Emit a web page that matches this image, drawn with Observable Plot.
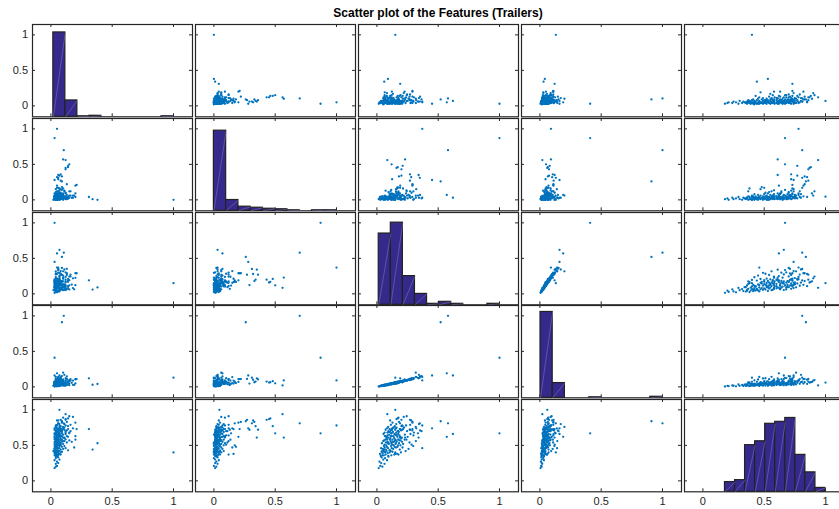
<!DOCTYPE html>
<html>
<head>
<meta charset="utf-8">
<script src="https://cdn.jsdelivr.net/npm/d3@7"></script>
<script src="https://cdn.jsdelivr.net/npm/@observablehq/plot@0.6"></script>
<style>
  html, body { margin: 0; padding: 0; background: #fff; }
  #chart { position: relative; width: 839px; height: 509px; overflow: hidden;
           font-family: "Liberation Sans", Arial, Helvetica, sans-serif; }
  #title { position: absolute; left: 0; width: 876px; top: 5.5px; line-height: 14px;
           text-align: center; font-weight: bold; font-size: 12px; color: #000; }
  #chart svg { position: absolute; overflow: visible; }
</style>
</head>
<body>
<div id="chart"><div id="title"></div></div>
<script>
// ---------------- data ----------------
const chartTitle = "Scatter plot of the Features (Trailers)";
const featureNames = ["Feature 1", "Feature 2", "Feature 3", "Feature 4", "Feature 5"];
const tickValues = [0, 0.5, 1];

const f1 = [
  0.03, 0.04, 0.05, 0.04, 0.06, 0.05, 0.03, 0.07, 0.04, 0.06,
  0.05, 1.00, 0.04, 0.06, 0.03, 0.08, 0.05, 0.04, 0.07, 0.03,
  0.06, 0.05, 0.04, 0.09, 0.03, 0.05, 0.07, 0.04, 0.06, 0.02,
  0.05, 0.04, 0.08, 0.06, 0.05, 0.34, 0.04, 0.06, 0.03, 0.08,
  0.05, 0.10, 0.04, 0.07, 0.03, 0.12, 0.05, 0.19, 0.04, 0.09,
  0.05, 0.07, 0.03, 0.11, 0.04, 0.06, 0.08, 0.05, 0.14, 0.03,
  0.38, 0.04, 0.07, 0.05, 0.10, 0.03, 0.06, 0.08, 0.04, 0.13,
  0.05, 0.07, 0.03, 0.09, 0.06, 0.11, 0.04, 0.08, 0.05, 0.15,
  0.06, 0.04, 0.07, 0.09, 0.03, 0.12, 0.05, 0.08, 0.06, 0.17,
  0.04, 0.10, 0.05, 0.07, 0.20, 0.03, 0.05, 0.07, 0.10, 0.15,
  0.06, 0.05, 0.04, 0.08, 0.06, 0.11, 0.03, 0.07, 0.09, 0.05,
  0.13, 0.04, 0.20, 0.06, 0.08, 0.05, 0.10, 0.03, 0.07, 0.12,
  0.04, 0.06, 0.09, 0.05, 0.14, 0.07, 0.04, 0.11, 0.06, 0.08,
  0.03, 0.31, 0.03, 0.21, 0.08, 0.06, 0.10, 0.04, 0.07, 0.12,
  0.05, 0.09, 0.06, 0.16, 0.04, 0.08, 0.13, 0.05, 0.07, 0.11,
  0.03, 0.09, 0.06, 0.14, 0.05, 0.08, 0.18, 0.04, 0.07, 0.10,
  0.06, 0.12, 0.04, 0.08, 0.15, 0.05, 0.09, 0.07, 0.11, 0.105,
  0.05, 0.20, 0.09, 0.07, 0.14, 0.06, 0.04, 0.10, 0.08, 0.12,
  0.05, 0.16, 0.07, 0.11, 0.06, 0.09, 0.13, 0.04, 0.09, 0.12,
  0.14, 0.08, 0.12, 0.15, 0.06, 0.10, 0.05, 0.18, 0.07, 0.12,
  0.06
];
const f2 = [
  0.01, 0.02, 0.00, 0.03, 0.01, 0.02, 0.04, 0.01, 0.00, 0.03,
  0.02, 0.00, 0.01, 0.03, 0.02, 0.05, 0.00, 0.04, 0.16, 0.01,
  0.02, 0.06, 0.00, 0.03, 0.02, 0.05, 0.01, 0.03, 0.08, 0.00,
  0.02, 0.01, 0.04, 0.12, 0.03, 0.01, 0.02, 0.05, 0.01, 0.03,
  0.00, 0.07, 0.15, 0.02, 0.04, 0.03, 0.01, 0.06, 0.02, 0.18,
  0.03, 0.00, 0.05, 0.02, 0.08, 0.01, 0.04, 0.17, 0.02, 0.03,
  0.00, 0.02, 0.05, 0.01, 0.03, 0.06, 0.02, 0.09, 0.00, 0.04,
  0.03, 0.07, 0.01, 0.02, 0.05, 0.12, 0.03, 0.01, 0.04, 0.06,
  0.02, 0.08, 0.135, 0.03, 0.01, 0.05, 0.02, 0.10, 0.04, 0.03,
  0.06, 0.02, 0.11, 0.00, 0.04, 0.87, 0.07, 0.03, 0.57, 0.50,
  0.35, 0.20, 0.02, 0.05, 0.01, 0.03, 0.06, 0.02, 0.08, 0.04,
  0.01, 0.03, 0.09, 0.12, 0.02, 0.05, 0.00, 0.04, 0.07, 0.03,
  0.01, 0.06, 0.14, 0.02, 0.04, 0.10, 0.03, 0.05, 0.02, 0.01,
  0.09, 0.04, 0.28, 0.21, 0.36, 0.29, 0.16, 0.03, 0.05, 0.01,
  0.08, 0.02, 0.04, 0.06, 0.11, 0.03, 0.07, 0.02, 0.05, 0.13,
  0.01, 0.06, 0.09, 0.02, 0.04, 0.15, 0.03, 0.07, 0.02, 0.05,
  0.01, 0.10, 0.04, 0.08, 0.03, 0.12, 0.02, 0.06, 0.04, 0.70,
  1.00, 0.20, 0.33, 0.34, 0.48, 0.31, 0.03, 0.06, 0.02, 0.09,
  0.04, 0.12, 0.08, 0.03, 0.17, 0.05, 0.22, 0.07, 0.26, 0.45,
  0.46, 0.27, 0.43, 0.12, 0.04, 0.09, 0.32, 0.06, 0.045, 0.56,
  0.03
];
const f3 = [
  0.015, 0.045, 0.028, 0.062, 0.035, 0.021, 0.083, 0.052, 0.067, 0.039,
  0.094, 0.15, 0.032, 0.118, 0.056, 0.071, 0.142, 0.025, 0.165, 0.088,
  0.047, 0.104, 0.196, 0.061, 0.127, 0.038, 0.079, 0.234, 0.112, 0.054,
  0.093, 0.148, 0.068, 0.176, 0.043, 0.06, 0.102, 0.046, 0.187, 0.073,
  0.133, 0.258, 0.156, 0.034, 0.091, 0.121, 0.209, 0.064, 0.145, 0.168,
  0.082, 0.296, 0.115, 0.057, 0.138, 0.192, 0.076, 0.172, 0.108, 0.049,
  0.09, 0.128, 0.062, 0.214, 0.097, 0.153, 0.041, 0.181, 0.118, 0.266,
  0.074, 0.139, 0.205, 0.088, 0.162, 0.111, 0.318, 0.058, 0.147, 0.193,
  0.084, 0.126, 0.241, 0.069, 0.174, 0.105, 0.152, 0.283, 0.096, 0.131,
  0.183, 0.052, 0.158, 0.119, 0.226, 1.00, 0.57, 0.62, 0.23, 0.12,
  0.34, 0.19, 0.078, 0.141, 0.203, 0.092, 0.167, 0.251, 0.113, 0.136,
  0.065, 0.184, 0.122, 0.298, 0.087, 0.156, 0.228, 0.101, 0.174, 0.054,
  0.143, 0.335, 0.117, 0.199, 0.081, 0.162, 0.274, 0.109, 0.151, 0.072,
  0.188, 0.19, 0.45, 0.29, 0.27, 0.124, 0.213, 0.086, 0.158, 0.302,
  0.107, 0.179, 0.131, 0.246, 0.094, 0.168, 0.352, 0.115, 0.197, 0.071,
  0.149, 0.268, 0.103, 0.186, 0.126, 0.321, 0.082, 0.161, 0.222, 0.137,
  0.098, 0.174, 0.289, 0.119, 0.063, 0.155, 0.364, 0.207, 0.134, 0.58,
  0.37, 0.29, 0.18, 0.20, 0.21, 0.35, 0.092, 0.317, 0.146, 0.238,
  0.114, 0.271, 0.158, 0.343, 0.189, 0.127, 0.29, 0.206, 0.52, 0.16,
  0.17, 0.27, 0.20, 0.243, 0.108, 0.176, 0.28, 0.219, 0.15, 0.085,
  0.37
];
const f4 = [
  0.005, 0.014, 0.011, 0.019, 0.016, 0.008, 0.033, 0.015, 0.027, 0.012,
  0.031, 0.13, 0.013, 0.036, 0.024, 0.021, 0.058, 0.009, 0.047, 0.037,
  0.014, 0.043, 0.071, 0.025, 0.039, 0.016, 0.024, 0.092, 0.046, 0.017,
  0.034, 0.062, 0.022, 0.058, 0.018, 0.03, 0.031, 0.019, 0.071, 0.029,
  0.042, 0.104, 0.052, 0.011, 0.036, 0.049, 0.066, 0.027, 0.061, 0.054,
  0.025, 0.118, 0.047, 0.017, 0.043, 0.081, 0.032, 0.064, 0.037, 0.021,
  0.04, 0.052, 0.018, 0.073, 0.041, 0.047, 0.016, 0.078, 0.035, 0.108,
  0.029, 0.055, 0.064, 0.034, 0.069, 0.038, 0.142, 0.021, 0.044, 0.083,
  0.031, 0.051, 0.087, 0.023, 0.062, 0.045, 0.049, 0.121, 0.033, 0.057,
  0.067, 0.019, 0.061, 0.042, 0.106, 0.41, 0.19, 0.16, 0.09, 0.05,
  0.12, 0.07, 0.028, 0.058, 0.071, 0.039, 0.056, 0.097, 0.041, 0.051,
  0.026, 0.064, 0.049, 0.109, 0.029, 0.063, 0.086, 0.037, 0.072, 0.022,
  0.048, 0.128, 0.044, 0.076, 0.034, 0.058, 0.112, 0.038, 0.055, 0.027,
  0.073, 0.12, 0.16, 0.11, 0.105, 0.046, 0.088, 0.031, 0.052, 0.124,
  0.043, 0.061, 0.054, 0.087, 0.036, 0.071, 0.147, 0.039, 0.078, 0.026,
  0.062, 0.094, 0.041, 0.065, 0.049, 0.138, 0.029, 0.068, 0.079, 0.046,
  0.035, 0.072, 0.115, 0.043, 0.024, 0.053, 0.152, 0.083, 0.051, 1.00,
  0.09, 0.11, 0.065, 0.075, 0.08, 0.13, 0.034, 0.20, 0.057, 0.092,
  0.044, 0.109, 0.066, 0.17, 0.072, 0.047, 0.11, 0.084, 0.91, 0.06,
  0.065, 0.112, 0.075, 0.096, 0.041, 0.069, 0.10, 0.088, 0.06, 0.02,
  0.14
];
const f5 = [
  0.18, 0.20, 0.21, 0.24, 0.25, 0.27, 0.29, 0.30, 0.32, 0.33,
  0.34, 0.40, 0.35, 0.36, 0.36, 0.37, 0.37, 0.38, 0.38, 0.39,
  0.39, 0.40, 0.40, 0.41, 0.41, 0.41, 0.42, 0.42, 0.42, 0.42,
  0.35, 0.38, 0.40, 0.37, 0.36, 0.44, 0.43, 0.43, 0.44, 0.44,
  0.45, 0.45, 0.47, 0.46, 0.46, 0.46, 0.47, 0.47, 0.48, 0.48,
  0.48, 0.49, 0.49, 0.49, 0.50, 0.50, 0.50, 0.50, 0.43, 0.45,
  0.53, 0.51, 0.51, 0.52, 0.52, 0.52, 0.53, 0.53, 0.54, 0.54,
  0.54, 0.55, 0.55, 0.55, 0.56, 0.56, 0.56, 0.57, 0.57, 0.57,
  0.58, 0.58, 0.58, 0.58, 0.585, 0.585, 0.58, 0.51, 0.53, 0.55,
  0.57, 0.56, 0.54, 0.52, 0.58, 0.67, 0.62, 0.66, 0.61, 0.67,
  0.61, 0.62, 0.60, 0.60, 0.61, 0.61, 0.62, 0.62, 0.63, 0.63,
  0.63, 0.64, 0.63, 0.64, 0.64, 0.65, 0.65, 0.65, 0.66, 0.66,
  0.66, 0.67, 0.67, 0.60, 0.62, 0.64, 0.66, 0.60, 0.65, 0.63,
  0.61, 0.73, 0.74, 0.73, 0.72, 0.72, 0.73, 0.68, 0.68, 0.68,
  0.69, 0.69, 0.69, 0.70, 0.70, 0.70, 0.71, 0.71, 0.71, 0.72,
  0.72, 0.72, 0.73, 0.73, 0.74, 0.74, 0.74, 0.75, 0.75, 0.75,
  0.69, 0.70, 0.71, 0.73, 0.68, 0.74, 0.70, 0.72, 0.75, 0.81,
  0.78, 0.82, 0.83, 0.77, 0.77, 0.81, 0.76, 0.76, 0.77, 0.78,
  0.79, 0.79, 0.80, 0.80, 0.81, 0.82, 0.83, 0.78, 0.84, 0.87,
  0.88, 0.86, 0.86, 0.91, 0.85, 0.89, 0.85, 0.90, 1.00, 0.94,
  0.46
];

// ---------------- layout & style ----------------
const features = [f1, f2, f3, f4, f5];
const samples = d3.range(f1.length).map(k => features.map(f => f[k]));

const layout = {
  left: 31.7, pitchX: 163.1, w: 160,
  top: 24.4, pitchY: 93.65, h: 92.3,
  marginLeft: 32, marginBottom: 20, tickLen: 3
};
const xDomain = [-0.15, 1.155];
const yDomain = [-0.154, 1.146];
const histFill = [0.914, 0.868, 0.89, 0.93, 0.80]; // tallest bar as share of panel height
const ink = "#262626";
const dotColor = "#0072bd";
const barColor = "#36298c";

document.getElementById("title").textContent = chartTitle;
const chart = document.getElementById("chart");
const fontFamily = "'Liberation Sans', Arial, Helvetica, sans-serif";

for (let i = 0; i < 5; i++) {
  for (let j = 0; j < 5; j++) {
    const ml = j === 0 ? layout.marginLeft : 0;
    const mb = i === 4 ? layout.marginBottom : 0;
    const marks = [];
    if (i !== j) {
      marks.push(Plot.dot(samples, {x: s => s[j], y: s => s[i], r: 1.15, fill: dotColor, stroke: null}));
    }
    marks.push(Plot.frame({stroke: ink, strokeWidth: 1.2}));
    marks.push(Plot.ruleX(tickValues, {insetTop: layout.h - layout.tickLen, stroke: ink}));
    marks.push(Plot.ruleX(tickValues, {insetBottom: layout.h - layout.tickLen, stroke: ink}));
    marks.push(Plot.ruleY(tickValues, {insetRight: layout.w - layout.tickLen, stroke: ink}));
    marks.push(Plot.ruleY(tickValues, {insetLeft: layout.w - layout.tickLen, stroke: ink}));
    if (j === 0) {
      marks.push(Plot.axisY({ticks: tickValues, anchor: "left", tickSize: 0, tickPadding: 4.5,
        tickFormat: d => String(d), label: null, fontSize: 11, fill: ink}));
    }
    if (i === 4) {
      marks.push(Plot.axisX({ticks: tickValues, anchor: "bottom", tickSize: 0, tickPadding: 5,
        tickFormat: d => String(d), label: null, fontSize: 11, fill: ink}));
    }
    const svg = Plot.plot({
      width: layout.w + ml, height: layout.h + mb,
      marginLeft: ml, marginRight: 0, marginTop: 0, marginBottom: mb,
      x: {domain: xDomain, axis: null},
      y: {domain: yDomain, axis: null},
      style: {fontFamily, fontSize: "11px", color: ink, background: "transparent", overflow: "visible"},
      marks
    });
    svg.style.left = (layout.left + j * layout.pitchX - ml) + "px";
    svg.style.top = (layout.top + i * layout.pitchY) + "px";
    chart.appendChild(svg);

    if (i === j) {
      const vals = features[i];
      const [lo, hi] = d3.extent(vals);
      const step = (hi - lo) / 10;
      const bins = d3.bin().domain([lo, hi]).thresholds(d3.range(1, 10).map(k => lo + k * step))(vals);
      const maxCount = d3.max(bins, b => b.length);
      const hist = Plot.plot({
        width: layout.w, height: layout.h, margin: 0,
        x: {domain: xDomain, axis: null},
        y: {domain: [0, maxCount / histFill[i]], axis: null},
        style: {background: "transparent", overflow: "visible"},
        marks: [
          Plot.rect(bins, {x1: b => b.x0, x2: b => b.x1, y1: 0, y2: b => b.length,
            fill: barColor, stroke: "#222", strokeWidth: 1.2}),
          Plot.link(bins.filter(b => b.length > 0), {x1: b => b.x0, y1: 0, x2: b => b.x1, y2: b => b.length,
            stroke: "#8a80c8", strokeWidth: 0.6, strokeOpacity: 0.8})
        ]
      });
      hist.style.left = (layout.left + j * layout.pitchX) + "px";
      hist.style.top = (layout.top + i * layout.pitchY) + "px";
      chart.appendChild(hist);
    }
  }
}
</script>
</body>
</html>
